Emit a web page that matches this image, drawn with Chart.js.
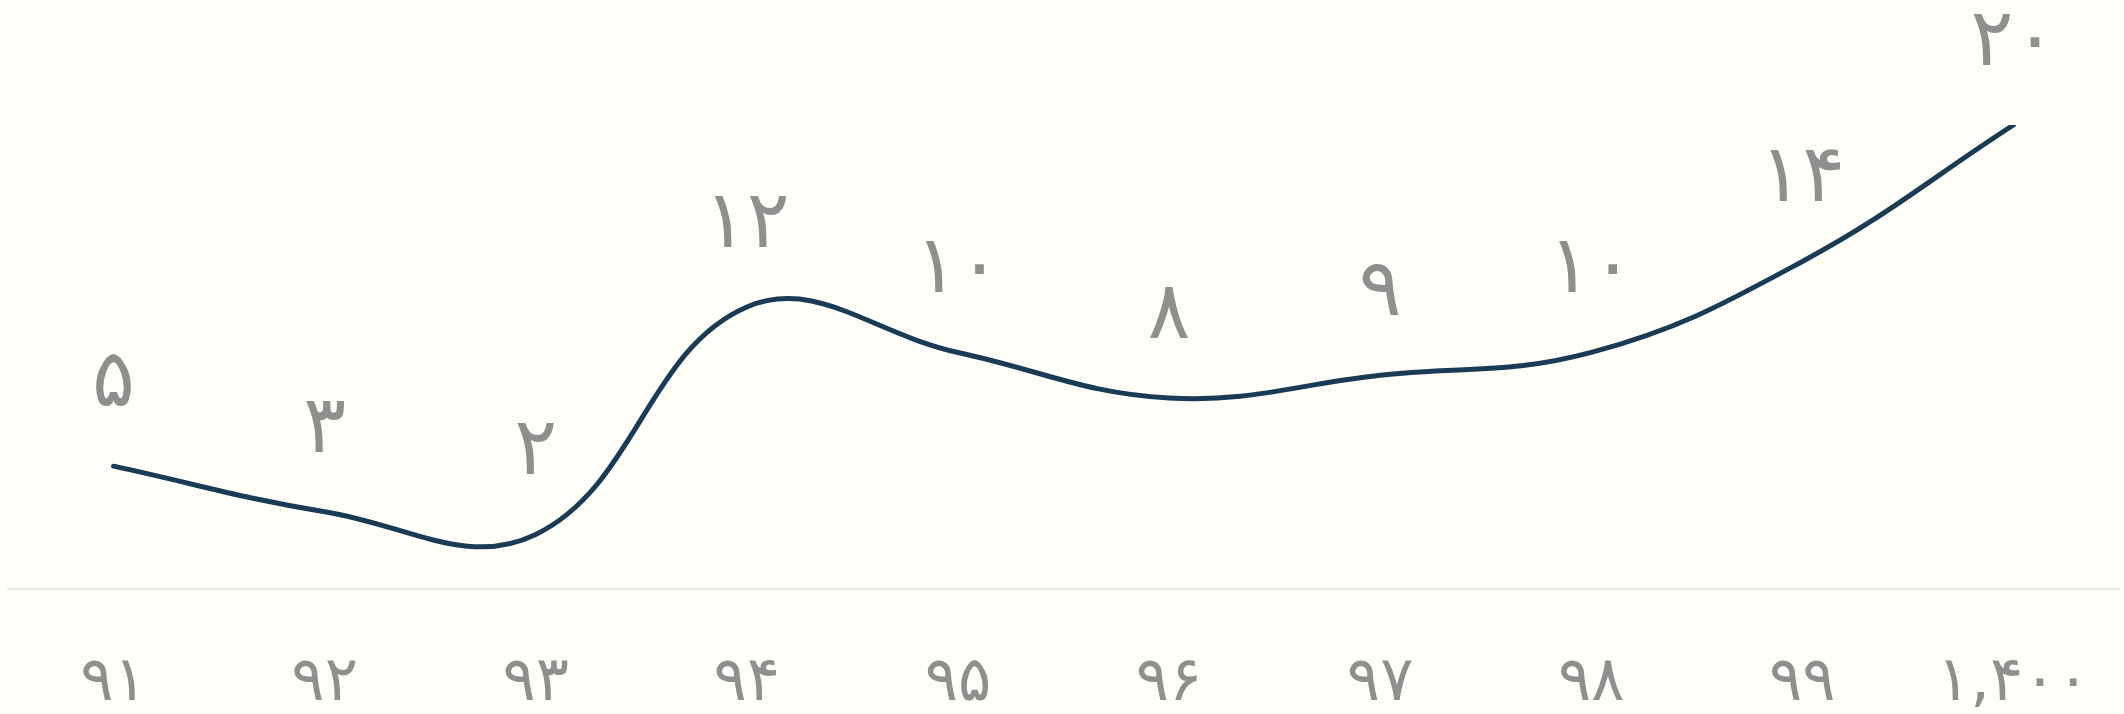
<!DOCTYPE html>
<html lang="fa">
<head>
<meta charset="utf-8">
<title>chart</title>
<script src="https://cdn.jsdelivr.net/npm/chart.js@4/dist/chart.umd.min.js"></script>
<style>
  html, body { margin: 0; padding: 0; background: #fffef8; }
  #wrap { width: 2124px; height: 714px; position: relative; }
</style>
</head>
<body>
<div id="wrap"><canvas id="chart"></canvas></div>
<script>
"use strict";

// x axis years (persian digits, as shown)
const years = ["۹۱", "۹۲", "۹۳", "۹۴", "۹۵", "۹۶", "۹۷", "۹۸", "۹۹", "۱,۴۰۰"];
const values = [5, 3, 2, 12, 10, 8, 9, 10, 14, 20];

const lineColor = "#1a3b55";
const textColor = "#8f8f8f";
const fontFamily = "'DejaVu Sans', 'Noto Sans', sans-serif";

function faDigits(n) {
  return String(n).replace(/[0-9]/g, d => "۰۱۲۳۴۵۶۷۸۹"[d]);
}

// draws the value above every point, like a datalabels plugin would
const valueLabels = {
  id: "valueLabels",
  afterDatasetsDraw(chart) {
    const ctx = chart.ctx;
    const meta = chart.getDatasetMeta(0);
    ctx.save();
    ctx.fillStyle = textColor;
    ctx.font = "80px " + fontFamily;
    ctx.textAlign = "center";
    ctx.textBaseline = "alphabetic";
    meta.data.forEach((pt, i) => {
      ctx.fillText(faDigits(values[i]), pt.x, pt.y - 60);
    });
    ctx.restore();
  }
};

const bg = {
  id: "bg",
  beforeDraw(chart) {
    const ctx = chart.ctx;
    ctx.save();
    ctx.fillStyle = "#fffef8";
    ctx.fillRect(0, 0, chart.width, chart.height);
    ctx.restore();
  }
};

new Chart("chart", {
  type: "line",
  data: {
    labels: years,
    datasets: [{
      data: values,
      borderColor: lineColor,
      borderWidth: 5,
      borderCapStyle: "round",
      tension: 0.4,
      pointRadius: 0,
      fill: false
    }]
  },
  options: {
    responsive: true,
    maintainAspectRatio: false,
    animation: false,
    layout: { padding: { left: 8, right: 5, top: 125, bottom: 0 } },
    plugins: {
      legend: { display: false },
      tooltip: { enabled: false }
    },
    scales: {
      x: {
        offset: true,
        grid: { display: false, drawTicks: false },
        border: { display: true, color: "#e6e6e6", width: 2 },
        ticks: {
          color: textColor,
          font: { family: fontFamily, size: 62 },
          padding: 58,
          maxRotation: 0,
          autoSkip: false
        },
        afterFit(scale) {
          scale.height = 125;
          scale.paddingLeft = 0;
          scale.paddingRight = 0;
        }
      },
      y: {
        display: false,
        min: -0.4,
        max: 20
      }
    }
  },
  plugins: [bg, valueLabels]
});
</script>
</body>
</html>
